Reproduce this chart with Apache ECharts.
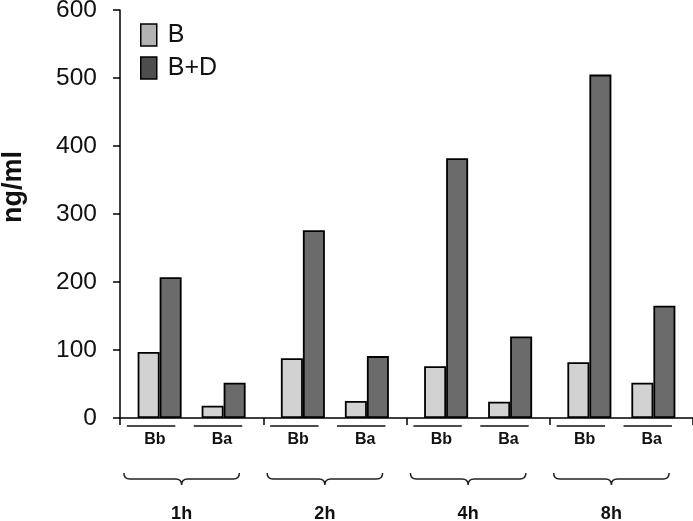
<!DOCTYPE html>
<html>
<head>
<meta charset="utf-8">
<script src="https://cdn.jsdelivr.net/npm/echarts@6/dist/echarts.min.js"></script>
<style>
html,body{margin:0;padding:0;background:#fff;}
#chart{width:693px;height:521px;}
</style>
</head>
<body>
<div id="chart"></div>
<script>
// ---- data ----
var hours = ['1h', '2h', '4h', '8h'];
var subgroups = ['Bb', 'Ba'];
var seriesNames = ['B', 'B+D'];
var bValuesBb = [97, 88, 76, 82];
var bdValuesBb = [207, 276, 382, 505];
var bValuesBa = [18, 25, 24, 52];
var bdValuesBa = [52, 91, 120, 165];
var yTicks = [0, 100, 200, 300, 400, 500, 600];

var FONT = 'Liberation Sans, Arial, Helvetica, sans-serif';
var LIGHT = '#d2d2d2', DARK = '#6b6b6b';

var chart = echarts.init(document.getElementById('chart'), null, {renderer: 'canvas'});

function barSeries(name, data, color) {
  return {
    type: 'bar', name: name, data: data, barWidth: 22, barGap: '0%',
    itemStyle: {color: color, borderColor: '#000', borderWidth: 1.8},
    emphasis: {disabled: true}, animation: false
  };
}

var option = {
  animation: false,
  backgroundColor: '#fff',
  grid: {left: 120, right: 0, top: 10, bottom: 103, containLabel: false, outerBoundsMode: 'none'},
  legend: {
    left: 135, top: 17.5, orient: 'vertical', itemWidth: 16, itemHeight: 22, itemGap: 8,
    icon: 'rect', selectedMode: false,
    textStyle: {fontFamily: FONT, fontSize: 25, color: '#111', padding: [0, 0, 0, 6]},
    data: [
      {name: seriesNames[0], itemStyle: {color: '#b3b3b3', borderColor: '#000', borderWidth: 1.5}},
      {name: seriesNames[1], itemStyle: {color: '#4d4d4d', borderColor: '#000', borderWidth: 1.5}}
    ]
  },
  xAxis: {
    type: 'category', data: hours, boundaryGap: true,
    axisLine: {lineStyle: {color: '#000', width: 1.5}},
    axisTick: {show: true, length: 7, lineStyle: {color: '#000', width: 1.5}},
    axisLabel: {show: false},
    splitLine: {show: false}
  },
  yAxis: {
    type: 'value', min: yTicks[0], max: yTicks[yTicks.length - 1], interval: 100,
    name: 'ng/ml', nameLocation: 'middle', nameGap: 93, nameRotate: 90,
    nameTextStyle: {fontFamily: FONT, fontSize: 27, fontWeight: 'bold', color: '#111', padding: [0, 0, 0, 54]},
    axisLine: {show: true, lineStyle: {color: '#000', width: 1.5}},
    axisTick: {show: true, length: 7, lineStyle: {color: '#000', width: 1.5}},
    axisLabel: {fontFamily: FONT, fontSize: 24.5, color: '#111', margin: 23},
    splitLine: {show: false}
  },
  series: [
    barSeries(seriesNames[0], bValuesBb, LIGHT),
    barSeries(seriesNames[1], bdValuesBb, DARK),
    {type: 'bar', name: '_gap', data: hours.map(function(){return '-';}), barWidth: 20, barGap: '0%', silent: true},
    barSeries(seriesNames[0], bValuesBa, LIGHT),
    barSeries(seriesNames[1], bdValuesBa, DARK),
    {
      type: 'custom', name: '_decor', clip: false, silent: true, z: 5,
      data: hours.map(function(h, i){ return [i, 0]; }),
      encode: {x: 0, y: 1},
      renderItem: function(params, api) {
        var idx = api.value(0);
        var p = api.coord([idx, 0]);
        var band = api.size([1, 0])[0];
        var cx = p[0], y0 = p[1];
        var lineHalf = 0.169 * band;
        var l1 = cx - 0.283 * band, l2 = cx + 0.184 * band;
        var t1 = cx - 0.256 * band, t2 = cx + 0.212 * band;
        var bx = cx - 10, bh = 0.403 * band;
        var top = y0 + 55, mid = y0 + 61, pt = y0 + 67;
        var bracePath = 'M' + (bx - bh) + ' ' + top +
          ' Q' + (bx - bh) + ' ' + mid + ' ' + (bx - bh + 6) + ' ' + mid +
          ' L' + (bx - 6) + ' ' + mid +
          ' Q' + bx + ' ' + mid + ' ' + bx + ' ' + pt +
          ' Q' + bx + ' ' + mid + ' ' + (bx + 6) + ' ' + mid +
          ' L' + (bx + bh - 6) + ' ' + mid +
          ' Q' + (bx + bh) + ' ' + mid + ' ' + (bx + bh) + ' ' + top;
        var lineStyle = {stroke: '#111', lineWidth: 1.6};
        var txt = function(text, x, y, size) {
          return {type: 'text', style: {text: text, x: x, y: y, align: 'center', verticalAlign: 'middle',
            fontFamily: FONT, fontSize: size, fontWeight: 'bold', fill: '#111'}};
        };
        return {
          type: 'group',
          children: [
            {type: 'line', shape: {x1: l1 - lineHalf, y1: y0 + 8, x2: l1 + lineHalf, y2: y0 + 8}, style: lineStyle},
            {type: 'line', shape: {x1: l2 - lineHalf, y1: y0 + 8, x2: l2 + lineHalf, y2: y0 + 8}, style: lineStyle},
            txt(subgroups[0], t1, y0 + 22, 16),
            txt(subgroups[1], t2, y0 + 22, 16),
            {type: 'path', shape: {pathData: bracePath}, style: {stroke: '#222', lineWidth: 1.5, fill: null}},
            txt(hours[idx], bx, y0 + 96, 18)
          ]
        };
      }
    }
  ]
};
chart.setOption(option);
</script>
</body>
</html>
